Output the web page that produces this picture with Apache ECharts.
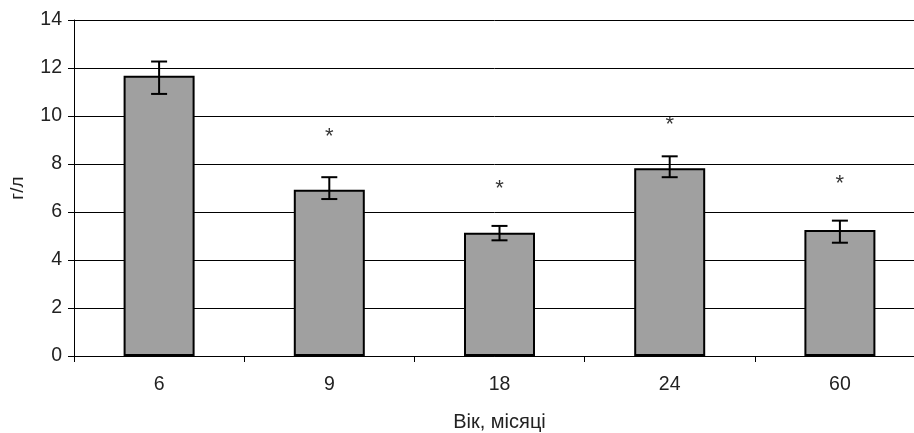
<!DOCTYPE html>
<html>
<head>
<meta charset="utf-8">
<script src="https://cdn.jsdelivr.net/npm/echarts@6/dist/echarts.min.js"></script>
<style>
html,body{margin:0;padding:0;background:#fff;}
#chart{width:914px;height:433px;}
</style>
</head>
<body>
<div id="chart"></div>
<script>
const categories = ['6', '9', '18', '24', '60'];
const means = [11.68, 6.93, 5.14, 7.82, 5.25];
const errHigh = [12.27, 7.45, 5.42, 8.32, 5.64];
const errLow = [10.92, 6.54, 4.82, 7.45, 4.72];
const starPos = [null, 9.35, 7.15, 9.82, 7.36];
const yTicks = [0, 2, 4, 6, 8, 10, 12, 14];

const FONT = '"Liberation Sans", Arial, sans-serif';
const chart = echarts.init(document.getElementById('chart'), null, {renderer: 'canvas'});

const errData = categories.map((c, i) => [i, errLow[i], errHigh[i]]);
const starData = categories.map((c, i) => starPos[i] == null ? null : [i, starPos[i]]).filter(d => d);

chart.setOption({
  animation: false,
  backgroundColor: '#fff',
  grid: {left: 74, top: 20, width: 851, height: 336, containLabel: false, outerBoundsMode: 'none'},
  xAxis: {
    type: 'category',
    data: categories,
    name: 'Вік, місяці',
    nameLocation: 'middle',
    nameGap: 56,
    nameTextStyle: {fontFamily: FONT, fontSize: 20, color: '#222'},
    axisLine: {lineStyle: {color: '#000', width: 1}},
    axisTick: {show: true, length: 6, lineStyle: {color: '#000'}},
    axisLabel: {fontFamily: FONT, fontSize: 19.5, color: '#222', margin: 19}
  },
  yAxis: {
    type: 'value',
    min: 0, max: 14, interval: 2,
    name: 'г/л',
    nameLocation: 'middle',
    nameGap: 47,
    nameRotate: 90,
    nameTextStyle: {fontFamily: FONT, fontSize: 19, color: '#222'},
    axisLine: {show: true, lineStyle: {color: '#000', width: 1}},
    axisTick: {show: true, length: 6, lineStyle: {color: '#000'}},
    axisLabel: {fontFamily: FONT, fontSize: 19.5, color: '#222', margin: 12,
      formatter: v => yTicks.includes(v) ? String(v) : ''},
    splitLine: {show: true, lineStyle: {color: '#000', width: 1}}
  },
  series: [
    {
      type: 'bar',
      data: means,
      barWidth: 71,
      itemStyle: {color: '#a0a0a0', borderColor: '#000', borderWidth: 2}
    },
    {
      type: 'custom',
      data: errData,
      z: 10,
      renderItem: function (params, api) {
        const x = api.value(0);
        const lo = api.coord([x, api.value(1)]);
        const hi = api.coord([x, api.value(2)]);
        const hw = 8;
        const style = {stroke: '#000', lineWidth: 2, fill: null};
        return {
          type: 'group',
          children: [
            {type: 'line', shape: {x1: hi[0], y1: hi[1], x2: lo[0], y2: lo[1]}, style: style},
            {type: 'line', shape: {x1: hi[0] - hw, y1: hi[1], x2: hi[0] + hw, y2: hi[1]}, style: style},
            {type: 'line', shape: {x1: lo[0] - hw, y1: lo[1], x2: lo[0] + hw, y2: lo[1]}, style: style}
          ]
        };
      }
    },
    {
      type: 'scatter',
      data: starData,
      symbolSize: 0,
      z: 11,
      label: {
        show: true,
        position: 'inside',
        formatter: '*',
        fontFamily: FONT,
        fontSize: 22,
        color: '#000',
        offset: [0, 5]
      }
    }
  ]
});
</script>
</body>
</html>
